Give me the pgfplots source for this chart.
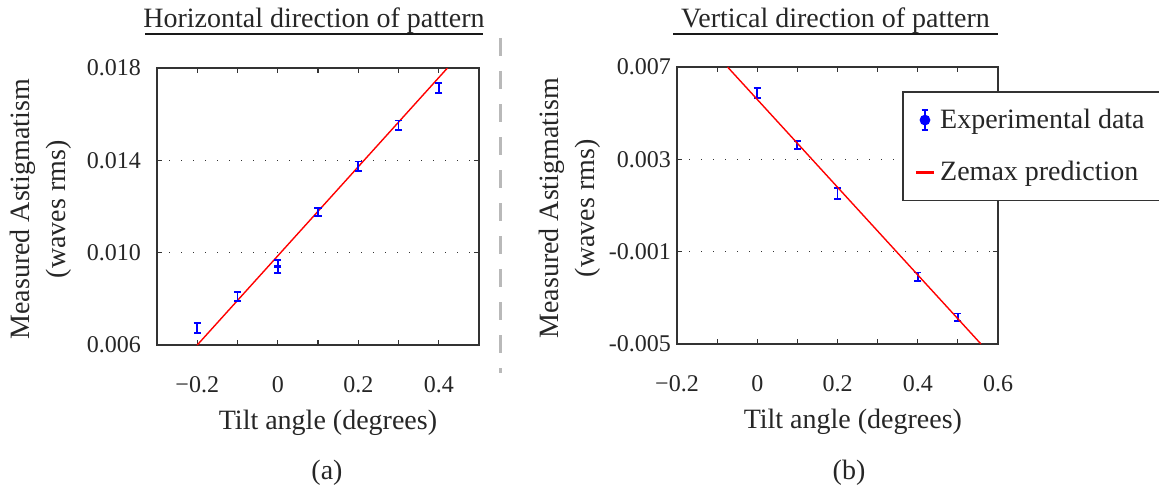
\documentclass[border=0pt]{standalone}
\usepackage{fontspec}
\setmainfont{Liberation Serif}
\usepackage{pgfplots}
\pgfplotsset{compat=1.18}

% 1 px of the reference = 0.5pt
\newcommand{\tickfont}{\fontsize{12pt}{14pt}\selectfont}
\newcommand{\labfont}{\fontsize{14pt}{18pt}\selectfont}
\definecolor{axgray}{gray}{0.2}

\pgfplotsset{
  astig/.style={
    scale only axis, anchor=south west,
    height=138.5pt,
    axis line style={draw=axgray, line width=0.75pt},
    every tick/.style={draw=axgray, line width=0.6pt},
    major tick length=2.5pt, minor tick length=2.5pt,
    tick align=inside,
    ymajorgrids,
    grid style={draw=axgray, line width=0.7pt, dash pattern=on 0.6pt off 5.4pt},
    scaled y ticks=false, scaled x ticks=false,
    tick label style={font=\tickfont, text=black!85},
    xticklabel style={yshift=-12pt},
    label style={font=\labfont, text=black!85},
    ylabel style={align=center, anchor=center},
    xlabel style={anchor=center},
    clip=true,
  },
  errdata/.style={
    only marks, mark=*, mark size=0pt, mark options={draw=none, fill=none},
    blue,
    error bars/.cd, y dir=both, y explicit,
    error bar style={draw=blue, line width=0.9pt, solid},
    error mark options={draw=blue, rotate=90, mark size=1.8pt, line width=0.9pt},
  },
  zemax/.style={red, line width=0.7pt, mark=none},
}

\begin{document}
\begin{tikzpicture}
\useasboundingbox (0,0) rectangle (579.5pt,-246pt);

% titles
\node[anchor=base, font=\labfont, text=black!85, inner sep=0pt] at (157pt,-14pt) {Horizontal direction of pattern};
\draw[black!90, line width=1.4pt] (72.5pt,-17pt) -- (241.5pt,-17pt);
\node[anchor=base, font=\labfont, text=black!85, inner sep=0pt] at (417.75pt,-14pt) {Vertical direction of pattern};
\draw[black!90, line width=1.4pt] (336.5pt,-17pt) -- (499pt,-17pt);

% separator
\draw[gray!55, line width=1.5pt, dash pattern=on 9pt off 7.5pt] (250pt,-19pt) -- (250pt,-186.5pt);

% (a) horizontal direction
\begin{axis}[astig, at={(78.5pt,-172.5pt)}, width=161pt,
  xmin=-0.3, xmax=0.5, ymin=0.006, ymax=0.018,
  xtick={-0.2,0,0.2,0.4}, xticklabels={−0.2,0,0.2,0.4},
  minor xtick={-0.1,0.1,0.3},
  ytick={0.006,0.010,0.014,0.018}, yticklabels={0.006,0.010,0.014,0.018},
  yticklabel style={xshift=-4.5pt},
  xlabel={Tilt angle (degrees)},
  xlabel style={at={(axis description cs:0.531,-0.28)}},
  ylabel={Measured Astigmatism\\(waves rms)},
  ylabel style={at={(axis description cs:-0.36,0.49)}},
]
\addplot[zemax] coordinates {(-0.2,0.006) (0.4216,0.018)};
\addplot[errdata] coordinates {
  (-0.2,0.00674) +- (0,0.00022)
  (-0.1,0.00810) +- (0,0.00020)
  (0,0.00952) +- (0,0.00015)
  (0,0.00928) +- (0,0.00015)
  (0.1,0.01177) +- (0,0.00018)
  (0.2,0.01375) +- (0,0.00020)
  (0.3,0.01553) +- (0,0.00020)
  (0.4,0.01712) +- (0,0.00022)
};
\end{axis}

% (b) vertical direction
\begin{axis}[astig, at={(338.5pt,-172pt)}, width=160.5pt,
  xmin=-0.2, xmax=0.6, ymin=-0.005, ymax=0.007,
  xtick={-0.2,0,0.2,0.4,0.6}, xticklabels={−0.2,0,0.2,0.4,0.6},
  minor xtick={-0.1,0.1,0.3,0.5},
  ytick={-0.005,-0.001,0.003,0.007}, yticklabels={-0.005,-0.001,0.003,0.007},
  yticklabel style={xshift=0.5pt},
  xlabel={Tilt angle (degrees)},
  xlabel style={at={(axis description cs:0.548,-0.28)}},
  ylabel={Measured Astigmatism\\(waves rms)},
  ylabel style={at={(axis description cs:-0.333,0.49)}},
  legend style={at={(0.701,0.913)}, anchor=north west,
    draw=axgray, line width=0.75pt, fill=white,
    font=\labfont, text=black!85,
    inner xsep=6pt, inner ysep=6pt, row sep=10pt,
    nodes={inner sep=2.5pt, anchor=west}},
  legend cell align=left,
]
\addplot[forget plot, errdata] coordinates {
  (0,0.00586) +- (0,0.00022)
  (0.1,0.00362) +- (0,0.00018)
  (0.2,0.00153) +- (0,0.00024)
  (0.4,-0.00208) +- (0,0.00018)
  (0.5,-0.00384) +- (0,0.00016)
};
\addlegendimage{legend image code/.code={
  \draw[blue, line width=1.2pt] (4.5pt,-5pt) -- (4.5pt,5pt);
  \draw[blue, line width=1.2pt] (2.8pt,-5pt) -- (6.2pt,-5pt);
  \draw[blue, line width=1.2pt] (2.8pt,5pt) -- (6.2pt,5pt);
  \fill[blue] (4.5pt,0pt) circle (2.3pt);
}}
\addlegendentry{Experimental data}
\addplot[zemax, legend image code/.code={
  \draw[red, line width=1.2pt] (0pt,0pt) -- (9pt,0pt);
}] coordinates {(-0.074,0.007) (0.5575,-0.005)};
\addlegendentry{Zemax prediction}
\end{axis}

% sub-figure labels
\node[font=\labfont, text=black!85] at (163.5pt,-236.5pt) {(a)};
\node[font=\labfont, text=black!85] at (424.5pt,-236.5pt) {(b)};
\end{tikzpicture}
\end{document}
